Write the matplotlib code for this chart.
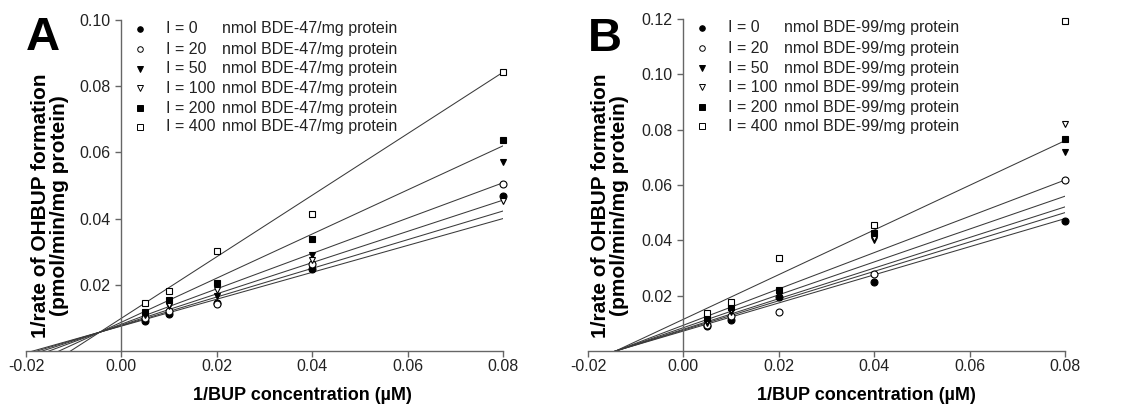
import matplotlib
matplotlib.use('Agg')
import matplotlib.pyplot as plt
import numpy as np

plt.rcParams['font.family'] = ['Liberation Sans', 'DejaVu Sans']

# 1/[BUP] concentrations (x) shared by both panels
inv_bup = [0.005, 0.01, 0.02, 0.04, 0.08]
doses = [0, 20, 50, 100, 200, 400]

# panel A: BDE-47, 1/rate values per inhibitor dose
a_vals = {
    0:   [0.0091, 0.0113, 0.0145, 0.0249, 0.0468],
    20:  [0.0101, 0.0122, 0.0141, 0.0262, 0.0505],
    50:  [0.0108, 0.0135, 0.0165, 0.0289, 0.0571],
    100: [0.0112, 0.0140, 0.0183, 0.0274, 0.0452],
    200: [0.0118, 0.0153, 0.0204, 0.0339, 0.0637],
    400: [0.0145, 0.0180, 0.0302, 0.0415, 0.0842],
}
# fitted lines (intercept, slope)
a_fit = {
    0:   (0.00753, 0.406),
    20:  (0.00765, 0.433),
    50:  (0.00810, 0.534),
    100: (0.00782, 0.472),
    200: (0.00870, 0.666),
    400: (0.00990, 0.929),
}

# panel B: BDE-99
b_vals = {
    0:   [0.0089, 0.0113, 0.0195, 0.0250, 0.0470],
    20:  [0.0095, 0.0125, 0.0141, 0.0277, 0.0618],
    50:  [0.0100, 0.0140, 0.0201, 0.0400, 0.0720],
    100: [0.0108, 0.0150, 0.0215, 0.0410, 0.0820],
    200: [0.0118, 0.0160, 0.0220, 0.0425, 0.0765],
    400: [0.0139, 0.0177, 0.0337, 0.0455, 0.1194],
}
b_fit = {
    0:   (0.00721, 0.508),
    20:  (0.00754, 0.531),
    50:  (0.00785, 0.553),
    100: (0.00843, 0.594),
    200: (0.00932, 0.656),
    400: (0.01146, 0.807),
}

styles = {
    0:   dict(marker='o', mfc='black'),
    20:  dict(marker='o', mfc='white'),
    50:  dict(marker='v', mfc='black'),
    100: dict(marker='v', mfc='white'),
    200: dict(marker='s', mfc='black'),
    400: dict(marker='s', mfc='white'),
}

fig = plt.figure(figsize=(11.25, 4.11), dpi=100)
axA = fig.add_axes([26/1125, 1-351/411, 477/1125, 331/411])
axB = fig.add_axes([588/1125, 1-351/411, 477/1125, 332/411])

line_x = np.array([-0.02, 0.08])


def draw(ax, vals, fits, compound, ymax, letter, letter_xy, ylab_x, xlab_x):
    for d in doses:
        a, b = fits[d]
        ax.plot(line_x, a + b * line_x, color='#3a3a3a', lw=0.75, zorder=2)
    for d in doses:
        st = styles[d]
        ax.plot(inv_bup, vals[d], ls='none', marker=st['marker'], mfc=st['mfc'],
                mec='black', mew=0.8, ms=5, clip_on=False, zorder=3)
    ax.set_xlim(-0.02, 0.08)
    ax.set_ylim(0, ymax)
    ax.spines['left'].set_position(('data', 0))
    ax.spines['top'].set_visible(False)
    ax.spines['right'].set_visible(False)
    for s in ('left', 'bottom'):
        ax.spines[s].set_color('#666666')
        ax.spines[s].set_linewidth(1.0)
    ax.set_xticks([-0.02, 0.0, 0.02, 0.04, 0.06, 0.08])
    ax.set_xticklabels(['-0.02', '0.00', '0.02', '0.04', '0.06', '0.08'])
    yt = np.arange(0.02, ymax + 1e-9, 0.02)
    ax.set_yticks(yt)
    ax.set_yticklabels(['%.2f' % v for v in yt])
    ax.tick_params(direction='out', length=4.5, width=1.0, color='#666666',
                   labelcolor='#222222', labelsize=11.5)
    ax.tick_params(axis='x', pad=1.5)
    ax.tick_params(axis='y', pad=3.5)
    # legend rows
    rows = [0.973, 0.912, 0.852, 0.794, 0.734, 0.677]
    for d, ry in zip(doses, rows):
        st = styles[d]
        ax.plot([0.239], [ry], transform=ax.transAxes, marker=st['marker'],
                mfc=st['mfc'], mec='black', mew=0.7, ms=4, ls='none', clip_on=False)
        ax.text(0.293, ry, 'I = %d' % d, transform=ax.transAxes, fontsize=11.5,
                va='center', ha='left', color='#222222')
        ax.text(0.411, ry, 'nmol %s/mg protein' % compound, transform=ax.transAxes,
                fontsize=11.5, va='center', ha='left', color='#222222')
    fig.text(letter_xy[0], letter_xy[1], letter, fontsize=34, fontweight='bold',
             ha='center', va='center')
    fig.text(ylab_x, 0.50, '1/rate of OHBUP formation\n(pmol/min/mg protein)',
             rotation=90, fontsize=15, fontweight='bold', ha='center', va='center',
             linespacing=1.05)
    fig.text(xlab_x, 0.038, '1/BUP concentration (\u00b5M)', fontsize=13,
             fontweight='bold', ha='center', va='center')


draw(axA, a_vals, a_fit, 'BDE-47', 0.10, 'A', (43/1125, 1-38/411), 50/1125, 302/1125)
draw(axB, b_vals, b_fit, 'BDE-99', 0.12, 'B', (605/1125, 1-39/411), 610/1125, 866/1125)

fig.savefig('out.png', dpi=100)
